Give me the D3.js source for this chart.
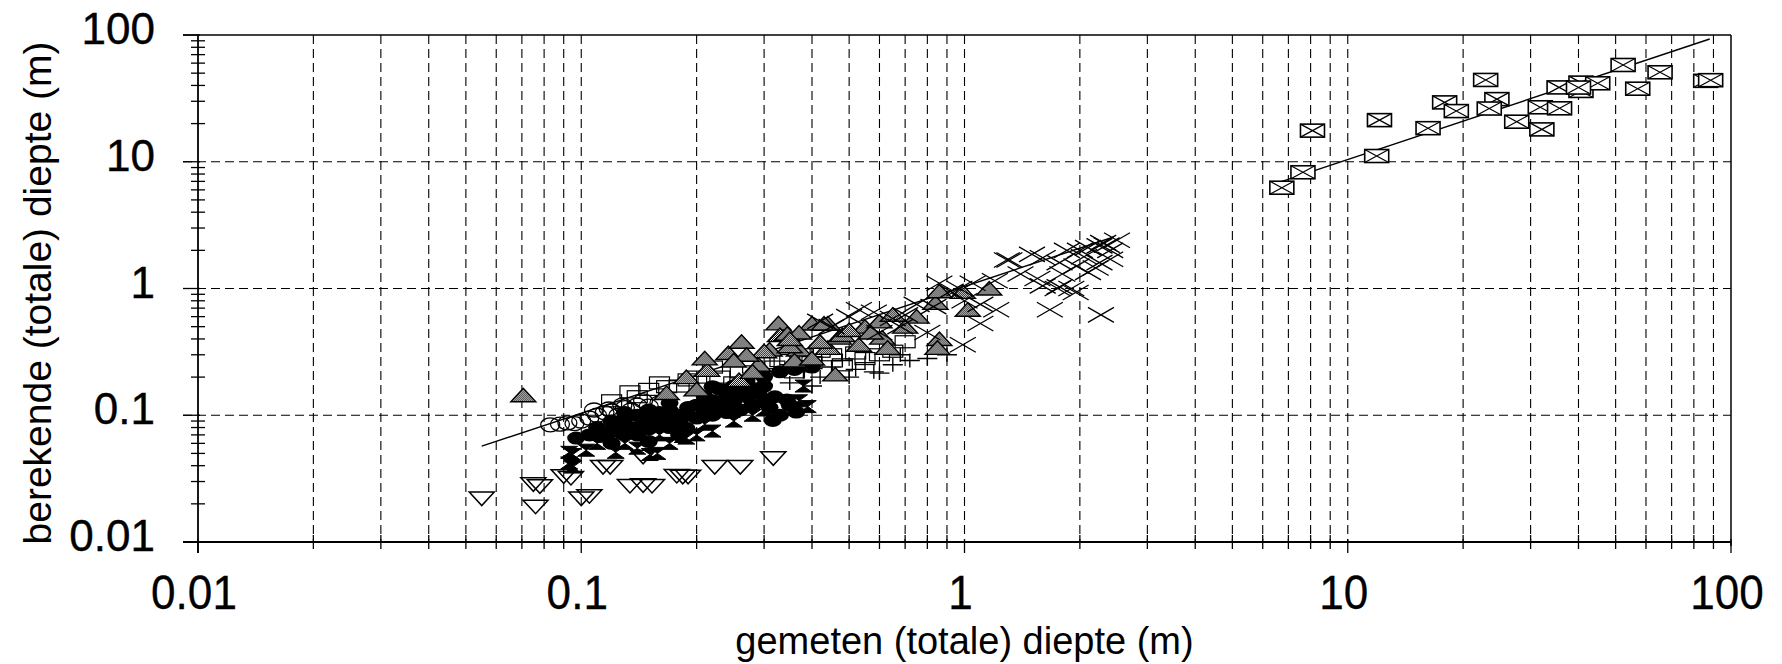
<!DOCTYPE html>
<html><head><meta charset="utf-8">
<script src="https://cdn.jsdelivr.net/npm/d3@7"></script>
<style>html,body{margin:0;padding:0;background:#fff;} svg{display:block;font-family:"Liberation Sans",Arial,sans-serif;}</style>
</head><body>
<svg id="chart" width="1782" height="664"></svg>
<script>
// ---- data (x = gemeten, y = berekende) ----
const xTickValues = [0.01, 0.1, 1, 10, 100];
const xTickLabels = ["0.01", "0.1", "1", "10", "100"];
const yTickValues = [0.01, 0.1, 1, 10, 100];
const yTickLabels = ["0.01", "0.1", "1", "10", "100"];
const xTitle = "gemeten (totale) diepte (m)";
const yTitle = "berekende (totale) diepte (m)";

const triDownPts = [[0.055,0.022],[0.075,0.0285],[0.078,0.0275],[0.076,0.019],[0.09,0.033],[0.094,0.032],[0.1,0.022],[0.105,0.023],[0.114,0.039],[0.119,0.039],[0.134,0.0277],[0.145,0.028],[0.153,0.0277],[0.145,0.047],[0.1775,0.0332],[0.184,0.0327],[0.19,0.0327],[0.223,0.039],[0.26,0.039],[0.317,0.0457]];

const openCirclePts = [[0.083,0.084],[0.088,0.085],[0.092,0.087],[0.096,0.086],[0.1,0.09],[0.105,0.095],[0.11,0.1],[0.115,0.105],[0.12,0.108],[0.125,0.1],[0.13,0.115],[0.135,0.11],[0.14,0.12],[0.15,0.118],[0.16,0.125],[0.108,0.11],[0.118,0.112],[0.128,0.12],[0.145,0.13]];

const filledCirclePts = [[0.097,0.066],[0.105,0.07],[0.112,0.068],[0.12,0.075],[0.128,0.072],[0.135,0.08],[0.14,0.07],[0.15,0.078],[0.16,0.085],[0.17,0.08],[0.18,0.09],[0.188,0.079],[0.12,0.09],[0.13,0.095],[0.14,0.1],[0.15,0.095],[0.16,0.105],[0.17,0.11],[0.18,0.1],[0.19,0.115],[0.2,0.12],[0.21,0.11],[0.22,0.13],[0.23,0.12],[0.24,0.14],[0.25,0.13],[0.26,0.15],[0.27,0.14],[0.28,0.16],[0.29,0.15],[0.3,0.17],[0.2,0.095],[0.22,0.1],[0.24,0.105],[0.26,0.11],[0.28,0.12],[0.3,0.13],[0.32,0.14],[0.344,0.132],[0.316,0.091],[0.364,0.106],[0.33,0.1],[0.31,0.115],[0.35,0.12],[0.11,0.08],[0.125,0.085],[0.145,0.088],[0.165,0.095],[0.19,0.1],[0.21,0.14],[0.23,0.16],[0.25,0.17],[0.27,0.18],[0.17,0.125],[0.15,0.11],[0.13,0.105],[0.3,0.2],[0.33,0.22],[0.36,0.23],[0.4,0.24],[0.27,0.19],[0.22,0.168],[0.12,0.06],[0.15,0.062],[0.18,0.07]];

const hourglassPts = [[0.093,0.051],[0.093,0.042],[0.103,0.053],[0.095,0.039],[0.095,0.049],[0.123,0.051],[0.151,0.049],[0.158,0.05],[0.184,0.068],[0.188,0.066],[0.247,0.107],[0.37,0.13],[0.39,0.117],[0.13,0.06],[0.14,0.055],[0.17,0.06],[0.2,0.07],[0.22,0.075],[0.11,0.06],[0.12,0.065],[0.16,0.07],[0.25,0.09],[0.28,0.1],[0.3,0.11],[0.21,0.085],[0.38,0.17]];

const openRectPts = [[0.134,0.153],[0.15,0.16],[0.167,0.168],[0.18,0.17],[0.2,0.2],[0.22,0.24],[0.25,0.18],[0.28,0.24],[0.3,0.26],[0.32,0.24],[0.35,0.28],[0.38,0.3],[0.42,0.32],[0.45,0.3],[0.52,0.31],[0.48,0.25],[0.55,0.28],[0.12,0.13],[0.14,0.14],[0.16,0.18],[0.19,0.19],[0.23,0.2],[0.26,0.22],[0.29,0.2],[0.33,0.27],[0.4,0.26],[0.6,0.3],[0.65,0.32],[0.7,0.38],[0.36,0.22]];

const triUpPts = [[0.0706,0.144],[0.167,0.15],[0.188,0.2],[0.213,0.228],[0.21,0.281],[0.242,0.31],[0.262,0.38],[0.258,0.19],[0.327,0.531],[0.33,0.43],[0.31,0.33],[0.345,0.44],[0.4,0.53],[0.44,0.53],[0.37,0.33],[0.35,0.35],[0.36,0.27],[0.4,0.28],[0.44,0.34],[0.47,0.41],[0.46,0.21],[0.37,0.45],[0.43,0.53],[0.48,0.43],[0.53,0.36],[0.61,0.41],[0.63,0.34],[0.75,0.6],[0.86,0.4],[0.85,0.34],[0.84,0.77],[1.02,0.68],[1.16,1.0],[0.86,0.95],[0.99,0.94],[0.35,0.4],[0.55,0.5],[0.6,0.55],[0.7,0.5],[0.65,0.62],[0.2,0.16],[0.29,0.25],[0.3,0.32],[0.27,0.3],[0.5,0.47],[0.57,0.45],[0.42,0.38],[0.25,0.27],[0.28,0.22]];

const plusPts = [[0.6,0.215],[0.72,0.27],[0.52,0.23],[0.48,0.27],[0.55,0.26],[0.65,0.25],[0.8,0.28],[0.45,0.24],[0.42,0.2],[0.5,0.2],[0.58,0.22],[0.68,0.3],[0.9,0.3],[0.38,0.22],[0.35,0.18],[0.4,0.17]];

const crossPts = [[1.29,1.68],[1.5,1.86],[1.85,2.0],[2.25,2.17],[2.35,2.2],[2.05,1.78],[1.77,1.6],[2.25,1.6],[2.1,1.34],[1.9,1.0],[1.75,1.0],[1.6,1.05],[1.67,0.68],[2.27,0.62],[1.21,0.68],[1.1,0.53],[0.99,0.36],[0.86,1.1],[0.92,0.95],[0.97,1.0],[0.83,0.72],[0.53,0.68],[0.58,0.65],[0.65,0.58],[0.7,0.62],[0.5,0.6],[1.31,1.68],[1.6,1.75],[2.0,2.0],[2.3,2.3],[1.96,1.5],[2.2,1.45],[1.77,1.03],[1.95,0.93],[2.4,2.0],[2.5,2.4],[1.4,1.3],[1.2,1.15],[1.05,1.1],[0.75,0.75],[0.68,0.5],[0.8,0.45],[0.6,0.45],[0.45,0.5],[0.42,0.55],[1.0,0.8],[1.1,0.75],[2.4,1.7],[2.1,2.1],[1.8,1.3],[1.55,1.2]];

const boxCrossPts = [[6.73,6.24],[7.64,8.26],[8.09,17.6],[11.9,11.1],[12.1,21.3],[16.2,18.4],[17.9,29.4],[19.2,25.1],[22.9,44.2],[24.5,31.2],[23.4,26.3],[27.6,20.7],[31.8,26.9],[32.1,18.0],[35.7,26.4],[35.6,38.6],[40.6,42.1],[40.6,36.2],[44.9,41.6],[52.3,58.0],[57.1,37.7],[65.3,50.8],[85.9,43.5],[88.5,44.0],[40.0,38.5]];

const fitLineLow = [[0.055,0.057],[2.45,2.55]];
const fitLineHigh = [[6.65,6.9],[88,93]];

// ---- layout ----
const L = 198, R = 1731, T = 35, B = 542;
const svg = d3.select("#chart");
const x = d3.scaleLog().domain([0.01, 100]).range([L, R]);
const y = d3.scaleLog().domain([0.01, 100]).range([B, T]);

const defs = svg.append("defs");
const pat = defs.append("pattern").attr("id","stip").attr("width",2).attr("height",2).attr("patternUnits","userSpaceOnUse");
pat.append("rect").attr("width",2).attr("height",2).attr("fill","#fff");
pat.append("rect").attr("width",1).attr("height",1).attr("fill","#000");
pat.append("rect").attr("x",1).attr("y",1).attr("width",1).attr("height",1).attr("fill","#000");
defs.append("clipPath").attr("id","plotclip").append("rect").attr("x",L).attr("y",T).attr("width",R-L).attr("height",B-T);

const minorVals = [];
[0.01,0.1,1,10].forEach(d => { for (let k=2;k<=9;k++) minorVals.push(d*k); });

// grid
const grid = svg.append("g").attr("stroke","#000").attr("stroke-width",1.1).attr("stroke-dasharray","9,5").attr("fill","none");
minorVals.concat([0.1,1,10]).forEach(v => {
  grid.append("line").attr("x1",x(v)).attr("x2",x(v)).attr("y1",T).attr("y2",B);
});
[0.1,1,10].forEach(v => {
  grid.append("line").attr("x1",L-15).attr("x2",R).attr("y1",y(v)).attr("y2",y(v));
});

// frame
const fr = svg.append("g").attr("stroke","#000").attr("fill","none");
fr.append("line").attr("x1",L-15).attr("x2",R).attr("y1",T).attr("y2",T).attr("stroke-width",1.5);
fr.append("line").attr("x1",R).attr("x2",R).attr("y1",T).attr("y2",B+4).attr("stroke-width",1.5);
fr.append("line").attr("x1",L).attr("x2",L).attr("y1",T).attr("y2",B+11).attr("stroke-width",1.8);
fr.append("line").attr("x1",L-15).attr("x2",R).attr("y1",B).attr("y2",B).attr("stroke-width",1.8);

// ticks
const tk = svg.append("g").attr("stroke","#000").attr("stroke-width",1.3);
minorVals.forEach(v => {
  tk.append("line").attr("x1",L-7).attr("x2",L+7).attr("y1",y(v)).attr("y2",y(v));
  tk.append("line").attr("x1",x(v)).attr("x2",x(v)).attr("y1",B-7).attr("y2",B+7);
});
yTickValues.forEach(v => {
  tk.append("line").attr("x1",L-15).attr("x2",L+2).attr("y1",y(v)).attr("y2",y(v));
});
xTickValues.forEach(v => {
  tk.append("line").attr("x1",x(v)).attr("x2",x(v)).attr("y1",B-3).attr("y2",B+11);
});

// tick labels
svg.append("g").selectAll("text").data(yTickValues).join("text")
  .attr("x", L-43).attr("y", d => y(d)+9).attr("text-anchor","end")
  .attr("font-size",44).attr("fill","#000").attr("stroke","#000").attr("stroke-width",0.4)
  .text((d,i) => yTickLabels[i]);
svg.append("g").selectAll("text").data(xTickValues).join("text")
  .attr("transform", d => `translate(${x(d)-4},609) scale(0.9,1)`)
  .attr("text-anchor","middle").attr("font-size",49).attr("fill","#000").attr("stroke","#000").attr("stroke-width",0.3)
  .text((d,i) => xTickLabels[i]);

// titles
svg.append("text").attr("x",(L+R)/2).attr("y",654).attr("text-anchor","middle")
  .attr("font-size",38).attr("fill","#000").text(xTitle);
svg.append("text").attr("transform","translate(51,293) rotate(-90)").attr("text-anchor","middle")
  .attr("font-size",39).attr("fill","#000").text(yTitle);

// fit lines
const lineGen = d3.line().x(d => x(d[0])).y(d => y(d[1]));
const marks = svg.append("g").attr("clip-path","url(#plotclip)");
[fitLineLow, fitLineHigh].forEach(l => marks.append("path").attr("d", lineGen(l)).attr("stroke","#000").attr("stroke-width",1.4).attr("fill","none"));

function place(sel){ return sel.attr("transform", d => `translate(${x(d[0])},${y(d[1])})`); }

// series
place(marks.append("g").selectAll("path").data(triDownPts).join("path"))
  .attr("d","M-12.5,-6.5L12.5,-6.5L0,7Z").attr("fill","none").attr("stroke","#000").attr("stroke-width",1.5);
place(marks.append("g").selectAll("ellipse").data(openCirclePts).join("ellipse"))
  .attr("rx",9.5).attr("ry",7).attr("fill","none").attr("stroke","#000").attr("stroke-width",1.3);
place(marks.append("g").selectAll("ellipse").data(filledCirclePts).join("ellipse"))
  .attr("rx",9).attr("ry",6.5).attr("fill","#000");
place(marks.append("g").selectAll("path").data(hourglassPts).join("path"))
  .attr("d","M-8.5,-6L8.5,-6L-8.5,6L8.5,6Z").attr("fill","#000").attr("stroke","#000").attr("stroke-width",1);
place(marks.append("g").selectAll("rect").data(openRectPts).join("rect"))
  .attr("x",-10).attr("y",-6).attr("width",20).attr("height",12).attr("fill","none").attr("stroke","#000").attr("stroke-width",1.2);
place(marks.append("g").selectAll("path").data(plusPts).join("path"))
  .attr("d","M-10,0L10,0M0,-7L0,7").attr("fill","none").attr("stroke","#000").attr("stroke-width",1.4);
place(marks.append("g").selectAll("path").data(triUpPts).join("path"))
  .attr("d","M-12.5,6.5L12.5,6.5L0,-7Z").attr("fill","url(#stip)").attr("stroke","#000").attr("stroke-width",1.4);
place(marks.append("g").selectAll("path").data(crossPts).join("path"))
  .attr("d","M-13,-7.5L13,7.5M-13,7.5L13,-7.5").attr("fill","none").attr("stroke","#000").attr("stroke-width",1.3);
const bx = place(marks.append("g").selectAll("g").data(boxCrossPts).join("g"));
bx.append("rect").attr("x",-12).attr("y",-6.5).attr("width",24).attr("height",13).attr("fill","#fff").attr("stroke","#000").attr("stroke-width",1.6);
bx.append("path").attr("d","M-12,-6.5L12,6.5M-12,6.5L12,-6.5").attr("stroke","#000").attr("stroke-width",1.2);
</script>
</body></html>
